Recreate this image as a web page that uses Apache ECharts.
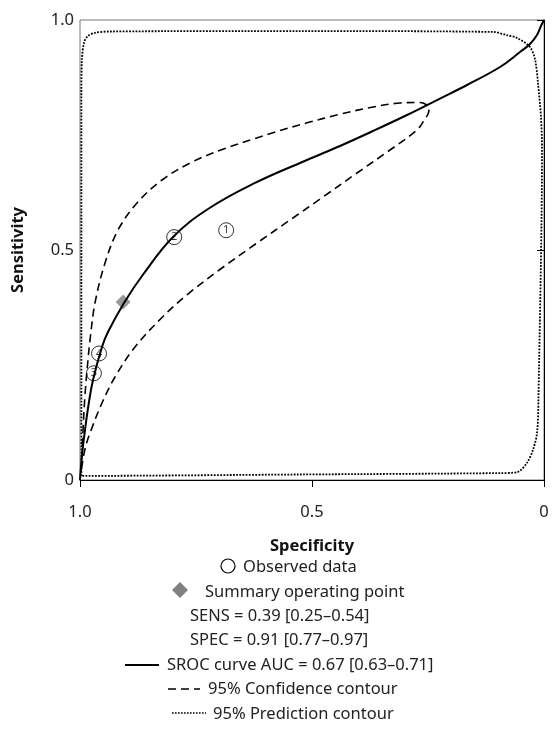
<!DOCTYPE html>
<html>
<head>
<meta charset="utf-8">
<script src="https://cdn.jsdelivr.net/npm/echarts@6/dist/echarts.min.js"></script>
<style>
html,body{margin:0;padding:0;background:#fff}
#main{width:553px;height:736px}
</style>
</head>
<body>
<div id="main"></div>
<script>
// observed studies [specificity, sensitivity]
var observedSpec = [0.685, 0.797, 0.97, 0.959];
var observedSens = [0.543, 0.528, 0.232, 0.275];
var observedLabels = ['1', '2', '3', '4'];

// summary operating point
var summarySpec = 0.907;
var summarySens = 0.387;

// SROC curve
var srocSpec = [1, 0.9957, 0.9892, 0.9817, 0.972, 0.9526, 0.9397, 0.9052, 0.8664, 0.7996, 0.7241, 0.6228, 0.5108, 0.4397, 0.3685, 0.2953, 0.2241, 0.1659, 0.0948, 0.0517, 0.0302, 0.0151, 0.0065, 0];
var srocSens = [0, 0.0543, 0.1087, 0.163, 0.2174, 0.2891, 0.3217, 0.3848, 0.4435, 0.5283, 0.5891, 0.6457, 0.6957, 0.7261, 0.7587, 0.7935, 0.8293, 0.8587, 0.8978, 0.9304, 0.9478, 0.9674, 0.987, 1];

// 95% confidence contour
var confSpec = [0.9978, 0.9935, 0.9892, 0.9828, 0.9784, 0.9677, 0.9461, 0.9181, 0.8772, 0.8233, 0.7586, 0.6875, 0.6228, 0.5841, 0.5108, 0.4397, 0.3685, 0.3103, 0.2672, 0.2543, 0.2478, 0.25, 0.2565, 0.2737, 0.3319, 0.403, 0.4763, 0.5474, 0.6185, 0.694, 0.7672, 0.8233, 0.8815, 0.9246, 0.9526, 0.9784, 0.9892, 0.9978];
var confSens = [0.0174, 0.1087, 0.1848, 0.2609, 0.3043, 0.3848, 0.4717, 0.5435, 0.6022, 0.6522, 0.6913, 0.7207, 0.7424, 0.755, 0.7765, 0.7952, 0.8109, 0.8196, 0.8207, 0.8163, 0.8065, 0.7957, 0.7848, 0.7609, 0.7174, 0.6674, 0.6152, 0.5652, 0.5152, 0.4609, 0.4043, 0.3533, 0.2891, 0.2239, 0.1674, 0.1022, 0.0674, 0.0174];

// 95% prediction contour
var predSpec = [0.997, 0.997, 0.996, 0.991, 0.983, 0.968, 0.935, 0.526, 0.11, 0.08, 0.058, 0.03, 0.019, 0.013, 0.0065, 0.0043, 0.012, 0.015, 0.024, 0.037, 0.058, 0.095, 0.526, 0.994, 0.997];
var predSens = [0.009, 0.826, 0.913, 0.952, 0.965, 0.972, 0.975, 0.976, 0.974, 0.967, 0.961, 0.941, 0.913, 0.863, 0.789, 0.717, 0.174, 0.102, 0.065, 0.037, 0.017, 0.015, 0.012, 0.009, 0.009];

var legendLines = [
  'Observed data',
  'Summary operating point',
  'SENS = 0.39 [0.25\u20130.54]',
  'SPEC = 0.91 [0.77\u20130.97]',
  'SROC curve AUC = 0.67 [0.63\u20130.71]',
  '95% Confidence contour',
  '95% Prediction contour'
];

function pairs(xs, ys) {
  var out = [];
  for (var i = 0; i < xs.length; i++) out.push([xs[i], ys[i]]);
  return out;
}

var font = '"Noto Sans", sans-serif';
var fs = 16.5;
var myChart = echarts.init(document.getElementById('main'));

var legendY = [567, 592, 616, 640, 665, 689, 714];
var legendX = [243, 205, 190, 190, 167, 208, 213];
var graphics = [];
for (var i = 0; i < legendLines.length; i++) {
  graphics.push({
    type: 'text',
    style: {
      text: legendLines[i], x: legendX[i], y: legendY[i],
      fill: '#222', font: fs + 'px ' + font, textVerticalAlign: 'middle'
    }
  });
}
graphics.push({type: 'circle', shape: {cx: 228, cy: 566, r: 7}, style: {fill: 'none', stroke: '#000', lineWidth: 1.2}});
graphics.push({type: 'polygon', shape: {points: [[180, 582], [188, 590], [180, 598], [172, 590]]}, style: {fill: '#808080'}});
graphics.push({type: 'line', shape: {x1: 125, y1: 665, x2: 159, y2: 665}, style: {stroke: '#000', lineWidth: 2}});
graphics.push({type: 'line', shape: {x1: 168, y1: 689, x2: 200, y2: 689}, style: {stroke: '#000', lineWidth: 1.6, lineDash: [8, 5]}});
graphics.push({type: 'line', shape: {x1: 172, y1: 713, x2: 206, y2: 713}, style: {stroke: '#000', lineWidth: 1.6, lineDash: [1.6, 1.4]}});

var axisLabelFmt = function (v) { return v === 0 ? '0' : v.toFixed(1); };

var option = {
  animation: false,
  backgroundColor: '#fff',
  textStyle: {fontFamily: font},
  grid: {left: 80, right: 9, top: 20, bottom: 256, show: true, borderColor: '#777', borderWidth: 1},
  xAxis: {
    type: 'value', min: 0, max: 1, interval: 0.5, inverse: true,
    name: 'Specificity', nameLocation: 'middle', nameGap: 58,
    nameTextStyle: {fontSize: fs, fontWeight: 'bold', color: '#111', fontFamily: font},
    axisLine: {show: true, lineStyle: {color: '#000', width: 1}},
    axisTick: {show: true, length: 7, lineStyle: {color: '#000'}},
    axisLabel: {fontSize: fs, color: '#222', margin: 24, formatter: axisLabelFmt, fontFamily: font},
    splitLine: {show: false}
  },
  yAxis: {
    type: 'value', min: 0, max: 1, interval: 0.5,
    name: 'Sensitivity', nameLocation: 'middle', nameGap: 53,
    nameTextStyle: {fontSize: fs, fontWeight: 'bold', color: '#111', fontFamily: font},
    axisLine: {show: true, lineStyle: {color: '#000', width: 1}},
    axisTick: {show: true, length: 7, lineStyle: {color: '#000'}},
    axisLabel: {fontSize: fs, color: '#222', margin: 6, formatter: axisLabelFmt, fontFamily: font},
    splitLine: {show: false}
  },
  graphic: graphics,
  series: [
    {
      name: 'prediction', type: 'line', data: pairs(predSpec, predSens), showSymbol: false, smooth: 0.3,
      lineStyle: {color: '#000', width: 1.8, type: [1.8, 1.4]}, silent: true
    },
    {
      name: 'confidence', type: 'line', data: pairs(confSpec, confSens), showSymbol: false, smooth: 0.35,
      lineStyle: {color: '#000', width: 1.6, type: [8, 5]}, silent: true
    },
    {
      name: 'sroc', type: 'line', data: pairs(srocSpec, srocSens), showSymbol: false, smooth: 0.4,
      lineStyle: {color: '#000', width: 2}, silent: true
    },
    {
      name: 'observed', type: 'scatter', symbol: 'circle', symbolSize: 15,
      data: pairs(observedSpec, observedSens),
      itemStyle: {color: 'rgba(255,255,255,0)', borderColor: '#000', borderWidth: 1},
      label: {show: true, position: 'inside', fontSize: 11, color: '#000',
        formatter: function (p) { return observedLabels[p.dataIndex]; }}
    },
    {
      name: 'summary', type: 'scatter', symbol: 'diamond', symbolSize: [15, 15],
      data: [[summarySpec, summarySens]],
      itemStyle: {color: '#808080'}
    }
  ]
};
myChart.setOption(option);
</script>
</body>
</html>
